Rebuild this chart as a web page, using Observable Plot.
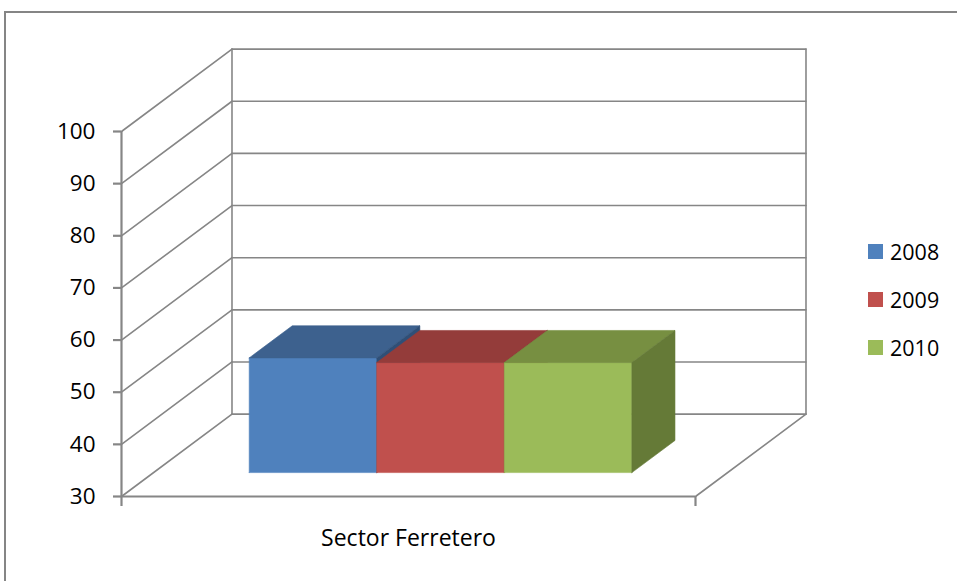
<!DOCTYPE html>
<html>
<head>
<meta charset="utf-8">
<script src="https://cdn.jsdelivr.net/npm/d3@7"></script>
<script src="https://cdn.jsdelivr.net/npm/@observablehq/plot@0.6"></script>
<style>
  html, body { margin: 0; padding: 0; background: #fff; }
  #wrap { position: relative; width: 957px; height: 581px; overflow: hidden; background: #fff; }
  #border { position: absolute; left: 4px; top: 11px; width: 1000px; height: 700px;
            border-left: 2px solid #858585; border-top: 2px solid #858585; }
  #chart { position: absolute; left: 0; top: 0; }
  #legend { position: absolute; left: 868px; top: 0; font-family: "Open Sans", sans-serif; font-size: 21.5px; color: #000; }
  .item { position: absolute; left: 0; height: 30px; display: flex; align-items: center; white-space: nowrap; }
  .sw { width: 15px; height: 15px; margin-right: 7px; }
</style>
</head>
<body>
<div id="wrap">
  <div id="border"></div>
  <div id="chart"></div>
  <div id="legend"></div>
</div>
<script>
// ---- data ----
const categories = ["Sector Ferretero"];
const series = ["2008", "2009", "2010"];
const values = [52.0, 51.1, 51.1];
const yTicks = [30, 40, 50, 60, 70, 80, 90, 100];

// ---- styles ----
const frontColors = ["#4f81bd", "#c0504d", "#9bbb59"];
const topColors = ["#3d618e", "#943c3a", "#778f41"];
const sideColors = ["#2f4f77", "#7d3230", "#657a37"];
const gridColor = "#868686";

// ---- oblique projection (depth t in [0,1]) ----
const DX = 0.1925;   // horizontal shift of full depth, in category units
const DV = 15.8;     // vertical shift of full depth, in value units
const P = (x, v, t) => ({x: x + t * DX, y: v + t * DV});
const yMin = yTicks[0], yMax = yTicks[yTicks.length - 1];

// walls / gridlines
const grid = [];
yTicks.forEach(v => {
  grid.push({id: "b" + v, ...P(0, v, 1)}, {id: "b" + v, ...P(1, v, 1)});
  grid.push({id: "s" + v, ...P(0, v, 0)}, {id: "s" + v, ...P(0, v, 1)});
});
grid.push({id: "bl", ...P(0, yMin, 1)}, {id: "bl", ...P(0, yMax, 1)});
grid.push({id: "br", ...P(1, yMin, 1)}, {id: "br", ...P(1, yMax, 1)});
grid.push({id: "fr", ...P(1, yMin, 0)}, {id: "fr", ...P(1, yMin, 1)});

// bars (gap width 150%, centred in category)
const n = series.length;
const w = 1 / (n + 1.5);
const start = 0.5 - n * w / 2;
const t0 = 0.29, t1 = 0.68;
const faces = [];
series.forEach((s, i) => {
  const x0 = start + i * w, x1 = x0 + w, v = values[i];
  const add = (id, color, pts) => pts.forEach(p => faces.push({id, color, ...p}));
  add(s + "f", frontColors[i], [P(x0, yMin, t0), P(x1, yMin, t0), P(x1, v, t0), P(x0, v, t0), P(x0, yMin, t0)]);
  add(s + "t", topColors[i], [P(x0, v, t0), P(x1, v, t0), P(x1, v, t1), P(x0, v, t1), P(x0, v, t0)]);
  add(s + "s", sideColors[i], [P(x1, yMin, t0), P(x1, yMin, t1), P(x1, v, t1), P(x1, v, t0), P(x1, yMin, t0)]);
});

const chart = Plot.plot({
  width: 957,
  height: 581,
  marginLeft: 121,
  marginRight: 262,
  marginTop: 131,
  marginBottom: 85,
  x: {domain: [0, 1], axis: null},
  y: {domain: [yMin, yMax], axis: null},
  color: {type: "identity"},
  style: {fontFamily: "Open Sans, sans-serif", color: "#000", background: "transparent", overflow: "visible"},
  marks: [
    Plot.line(grid, {x: "x", y: "y", z: "id", stroke: gridColor, strokeWidth: 1.6}),
    Plot.line(faces, {x: "x", y: "y", z: "id", fill: "color", stroke: "color", strokeWidth: 0.6}),
    Plot.ruleX([0], {y1: yMin, y2: yMax, stroke: gridColor, strokeWidth: 2.2}),
    Plot.ruleY([yMin], {x1: 0, x2: 1, stroke: gridColor, strokeWidth: 2.2}),
    Plot.axisY({ticks: yTicks, tickSize: 8, tickPadding: 18, stroke: gridColor, strokeWidth: 2.2, fontSize: 22.5, fill: "#000", label: null}),
    Plot.axisX({ticks: [0, 1], tickSize: 10, tickFormat: () => "", stroke: gridColor, strokeWidth: 2.2, label: null}),
    Plot.text(categories, {x: () => 0.5, y: () => yMin, text: d => d, dy: 42, fontSize: 23, fill: "#000"})
  ]
});
document.getElementById("chart").appendChild(chart);

// legend
const legend = document.getElementById("legend");
series.forEach((s, i) => {
  const it = document.createElement("div");
  it.className = "item";
  it.style.top = (236 + i * 48) + "px";
  it.innerHTML = `<span class="sw" style="background:${frontColors[i]}"></span><span>${s}</span>`;
  legend.appendChild(it);
});
</script>
</body>
</html>
